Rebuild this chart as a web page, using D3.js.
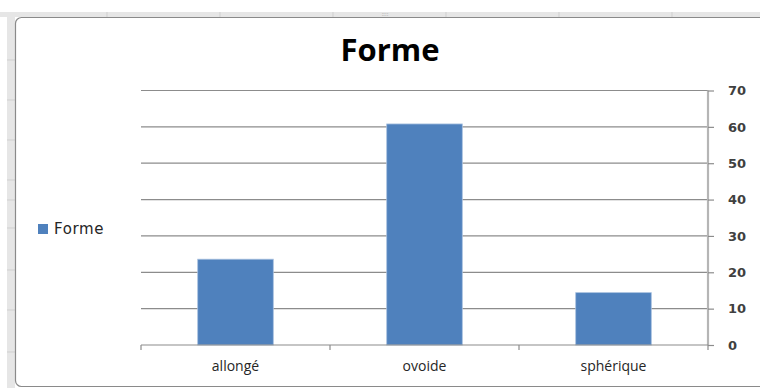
<!DOCTYPE html>
<html><head><meta charset="utf-8">
<script src="https://cdn.jsdelivr.net/npm/d3@7"></script>
<style>html,body{margin:0;padding:0;background:#fff;}svg{display:block;}</style>
</head><body>
<svg id="c" width="760" height="388"></svg>
<script>
const categories = ["allongé", "ovoide", "sphérique"];
const values = [23.6, 60.8, 14.4];
const yTicks = [0, 10, 20, 30, 40, 50, 60, 70];
const seriesName = "Forme";
const title = "Forme";

(function () {
const svg = d3.select("#c");
// sheet background
svg.append("rect").attr("x", 0).attr("y", 12).attr("width", 760).attr("height", 5).attr("fill", "#e6e6e6");
svg.append("rect").attr("x", 7).attr("y", 12).attr("width", 8).attr("height", 376).attr("fill", "#e6e6e6");
[107, 220, 333, 446, 559, 672].forEach(x => svg.append("line").attr("x1", x).attr("x2", x).attr("y1", 12).attr("y2", 17).attr("stroke", "#cfcfcf"));
[60, 100, 140, 180, 200, 228, 270, 310, 352].forEach(y => svg.append("line").attr("x1", 7).attr("x2", 15).attr("y1", y).attr("y2", y).attr("stroke", "#cfcfcf"));
svg.append("text").attr("x", 385).attr("y", 16).attr("text-anchor", "middle").attr("font-size", 6).attr("fill", "#aaa").text("::::");
// chart frame
svg.append("rect").attr("x", 15.5).attr("y", 17.5).attr("width", 760).attr("height", 369).attr("rx", 6)
  .attr("fill", "#fff").attr("stroke", "#8a8a8a").attr("stroke-width", 1.2);

const pLeft = 141, pRight = 708, pTop = 90.5, pBottom = 345;
const x = d3.scaleBand().domain(categories).range([pLeft, pRight]).paddingInner(0.6).paddingOuter(0.3);
const y = d3.scaleLinear().domain([0, 70]).range([pBottom, pTop]);

// gridlines
svg.append("g").selectAll("line").data(yTicks.filter(d => d > 0)).join("line")
  .attr("x1", pLeft).attr("x2", pRight).attr("y1", d => y(d)).attr("y2", d => y(d))
  .attr("stroke", "#8c8c8c").attr("stroke-width", 1.2);

// bars
svg.append("g").selectAll("rect").data(values).join("rect")
  .attr("x", (d, i) => x(categories[i])).attr("width", x.bandwidth())
  .attr("y", d => y(d)).attr("height", d => pBottom - y(d))
  .attr("fill", "#4f81bd").attr("stroke", "#a9c1e0").attr("stroke-width", 0.8);

// right axis
const ya = svg.append("g").attr("transform", `translate(${pRight},0)`)
  .call(d3.axisRight(y).tickValues(yTicks).tickSize(6).tickPadding(14).tickFormat(d3.format("d")));
ya.select(".domain").attr("stroke", "#b5b5b5").attr("stroke-width", 2.2).attr("d", `M0,${pTop}V${pBottom}`);
ya.selectAll(".tick line").attr("stroke", "#8c8c8c").attr("stroke-width", 1.2);
ya.selectAll(".tick text").attr("font-family", "DejaVu Sans").attr("font-weight", "bold")
  .attr("font-size", 13).attr("fill", "#404040");

// bottom axis
const xa = svg.append("g").attr("transform", `translate(0,${pBottom})`)
  .call(d3.axisBottom(x).tickSize(0).tickPadding(16));
xa.select(".domain").attr("stroke", "#8c8c8c").attr("stroke-width", 1.2).attr("d", `M${pLeft},0H${pRight}`);
xa.selectAll(".tick text").attr("font-family", "Open Sans").attr("font-size", 14).attr("fill", "#262626");
const bounds = [pLeft, ...categories.map(c => x(c) - x.step() * x.paddingInner() / 2 + x.step())];
bounds[bounds.length - 1] = pRight;
svg.append("g").selectAll("line").data(bounds).join("line")
  .attr("x1", d => d).attr("x2", d => d).attr("y1", pBottom).attr("y2", pBottom + 5)
  .attr("stroke", "#8c8c8c").attr("stroke-width", 1.2);

// title
svg.append("text").attr("x", 390).attr("y", 61).attr("text-anchor", "middle")
  .attr("font-family", "Open Sans").attr("font-weight", "bold").attr("font-size", 31).attr("fill", "#000").text(title);

// legend
svg.append("rect").attr("x", 38).attr("y", 224).attr("width", 10).attr("height", 10).attr("fill", "#4f81bd");
svg.append("text").attr("x", 54).attr("y", 234).attr("font-family", "DejaVu Sans").attr("font-size", 15)
  .attr("letter-spacing", 0.6).attr("fill", "#262626").text(seriesName);
})();
</script>
</body></html>
